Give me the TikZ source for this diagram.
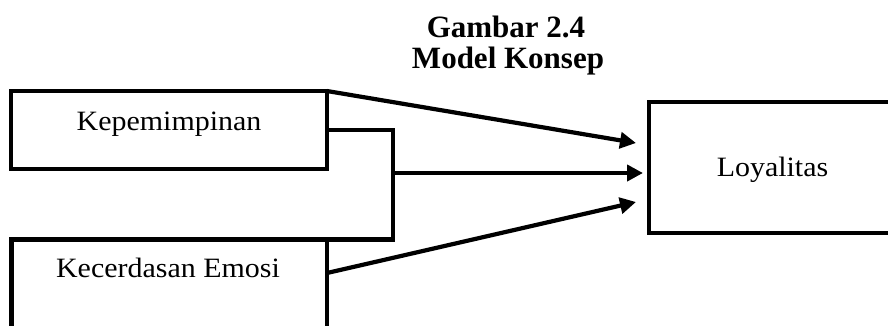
\documentclass[tikz,border=0pt]{standalone}
\usepackage{fontspec}
\setmainfont{Liberation Serif}
\newfontfamily\bodyfont[FakeStretch=1.07]{Liberation Serif}
\usetikzlibrary{arrows.meta,calc}

\begin{document}
\begin{tikzpicture}[x=1pt,y=-1pt,
  frame/.style={draw,line width=4.2pt,rectangle,inner sep=0pt,outer sep=0pt},
  label text/.style={anchor=base,inner sep=0pt,font=\bodyfont\fontsize{28}{34}\selectfont},
  heading/.style={anchor=base,inner sep=0pt,font=\bfseries\fontsize{31}{36}\selectfont},
  link/.style={line width=4.2pt},
  arr/.style={line width=4.2pt,-{Triangle[length=16pt,width=16pt]}}]
  \useasboundingbox (0,0) rectangle (888,325);
  \clip (0,0) rectangle (888,325);

  % caption
  \node[heading] (cap1) at (506,37) {Gambar 2.4};
  \node[heading] (cap2) at (508,68) {Model Konsep};

  % boxes
  \node[frame,minimum width=316pt,minimum height=78pt] (kep) at (169,130) {};
  \node[frame,minimum width=315.5pt,minimum height=120pt] (kec) at (169.25,299.5) {};
  \node[frame,minimum width=248pt,minimum height=131.6pt] (loy) at (773,167.5) {};

  % box texts
  \node[label text] (kepT) at (169,130) {Kepemimpinan};
  \node[label text] (kecT) at (168,277) {Kecerdasan Emosi};
  \node[label text] (loyT) at (772.5,176) {Loyalitas};

  % connector ends
  \coordinate (tipA) at (636,143);
  \coordinate (tipB) at (643,173);
  \coordinate (tipC) at (636,202);
  \coordinate (join) at (393,173);

  % bracket joining both predictors
  \draw[link] (kep.east) -- ++(66,0) |- (kec.north east);

  % arrows
  \draw[arr] (kep.north east) -- (tipA);
  \draw[arr] (join) -- (tipB);
  \draw[arr] ($(kec.north east)+(0,33.5)$) -- (tipC);
\end{tikzpicture}
\end{document}
